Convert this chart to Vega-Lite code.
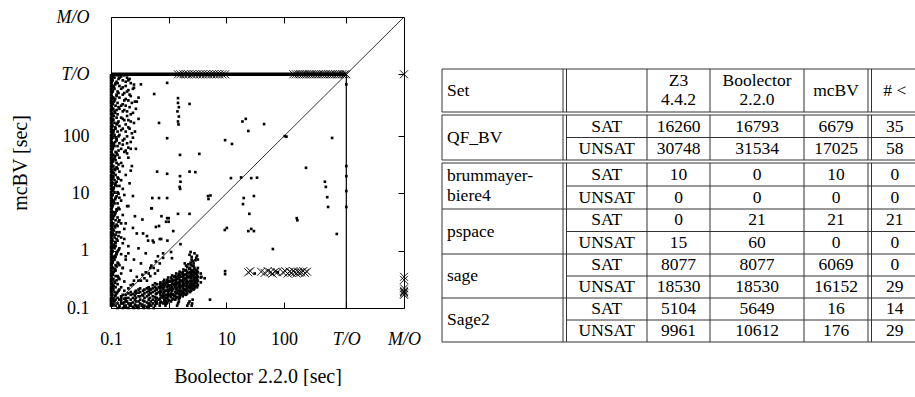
{
"$schema": "https://vega.github.io/schema/vega-lite/v6.json",
"padding": {"left": 10, "top": 8, "right": 0, "bottom": 0},
"background": "white",
"config": {"view": {"stroke": null}, "font": "Liberation Serif", "axis": {"grid": false}},
"bounds": "flush",
"spacing": 38,
"datasets": {
"dots": [
{"b":0.1,"m":0.11},{"b":0.12,"m":0.11},{"b":0.14,"m":0.11},{"b":0.17,"m":0.11},{"b":0.21,"m":0.11},
{"b":0.1,"m":0.12},{"b":0.11,"m":0.12},{"b":0.13,"m":0.12},{"b":0.16,"m":0.12},
{"b":0.1,"m":0.13},{"b":0.115,"m":0.13},{"b":0.15,"m":0.13},{"b":0.19,"m":0.13},
{"b":0.1,"m":0.14},{"b":0.12,"m":0.14},{"b":0.14,"m":0.14},{"b":0.18,"m":0.14},
{"b":0.1,"m":0.15},{"b":0.11,"m":0.15},{"b":0.13,"m":0.15},
{"b":0.1,"m":0.17},{"b":0.12,"m":0.17},{"b":0.16,"m":0.17},
{"b":0.1,"m":0.19},{"b":0.115,"m":0.19},{"b":0.13,"m":0.19},
{"b":0.1,"m":0.21},{"b":0.11,"m":0.21},{"b":0.14,"m":0.21},
{"b":0.1,"m":0.23},{"b":0.12,"m":0.23},{"b":0.15,"m":0.23},
{"b":0.1,"m":0.26},{"b":0.105,"m":0.26},{"b":0.13,"m":0.26},
{"b":0.1,"m":0.29},{"b":0.115,"m":0.29},{"b":0.17,"m":0.29},
{"b":0.1,"m":0.32},{"b":0.11,"m":0.32},{"b":0.14,"m":0.32},
{"b":0.1,"m":0.36},{"b":0.12,"m":0.36},{"b":0.13,"m":0.36},
{"b":0.1,"m":0.4},{"b":0.105,"m":0.4},{"b":0.15,"m":0.4},
{"b":0.1,"m":0.45},{"b":0.115,"m":0.45},{"b":0.12,"m":0.45},
{"b":0.1,"m":0.5},{"b":0.11,"m":0.5},{"b":0.16,"m":0.5},
{"b":0.1,"m":0.56},{"b":0.12,"m":0.56},{"b":0.14,"m":0.56},
{"b":0.1,"m":0.62},{"b":0.105,"m":0.62},{"b":0.13,"m":0.62},
{"b":0.1,"m":0.7},{"b":0.115,"m":0.7},{"b":0.18,"m":0.7},
{"b":0.1,"m":0.78},{"b":0.11,"m":0.78},{"b":0.12,"m":0.78},
{"b":0.1,"m":0.87},{"b":0.125,"m":0.87},{"b":0.15,"m":0.87},
{"b":0.1,"m":0.97},{"b":0.105,"m":0.97},{"b":0.13,"m":0.97},
{"b":0.1,"m":1.1},{"b":0.115,"m":1.1},{"b":0.14,"m":1.1},
{"b":0.1,"m":1.2},{"b":0.11,"m":1.2},{"b":0.12,"m":1.2},
{"b":0.1,"m":1.35},{"b":0.12,"m":1.35},{"b":0.16,"m":1.35},
{"b":0.1,"m":1.5},{"b":0.105,"m":1.5},{"b":0.13,"m":1.5},
{"b":0.1,"m":1.7},{"b":0.115,"m":1.7},{"b":0.15,"m":1.7},
{"b":0.1,"m":1.9},{"b":0.11,"m":1.9},{"b":0.12,"m":1.9},
{"b":0.1,"m":2.1},{"b":0.125,"m":2.1},{"b":0.14,"m":2.1},
{"b":0.1,"m":2.4},{"b":0.105,"m":2.4},{"b":0.17,"m":2.4},
{"b":0.1,"m":2.7},{"b":0.115,"m":2.7},{"b":0.13,"m":2.7},
{"b":0.1,"m":3},{"b":0.11,"m":3},{"b":0.15,"m":3},
{"b":0.1,"m":3.4},{"b":0.12,"m":3.4},{"b":0.14,"m":3.4},
{"b":0.1,"m":3.8},{"b":0.105,"m":3.8},{"b":0.13,"m":3.8},
{"b":0.1,"m":4.2},{"b":0.115,"m":4.2},{"b":0.16,"m":4.2},
{"b":0.1,"m":4.7},{"b":0.11,"m":4.7},{"b":0.12,"m":4.7},
{"b":0.1,"m":5.3},{"b":0.125,"m":5.3},{"b":0.14,"m":5.3},
{"b":0.1,"m":6},{"b":0.105,"m":6},{"b":0.19,"m":6},
{"b":0.1,"m":6.7},{"b":0.115,"m":6.7},{"b":0.13,"m":6.7},
{"b":0.1,"m":7.5},{"b":0.11,"m":7.5},{"b":0.15,"m":7.5},
{"b":0.1,"m":8.4},{"b":0.12,"m":8.4},{"b":0.14,"m":8.4},
{"b":0.1,"m":9.4},{"b":0.105,"m":9.4},{"b":0.17,"m":9.4},
{"b":0.1,"m":10.5},{"b":0.115,"m":10.5},{"b":0.13,"m":10.5},
{"b":0.1,"m":12},{"b":0.11,"m":12},{"b":0.16,"m":12},
{"b":0.1,"m":13.5},{"b":0.125,"m":13.5},{"b":0.14,"m":13.5},
{"b":0.1,"m":15},{"b":0.105,"m":15},{"b":0.12,"m":15},
{"b":0.1,"m":17},{"b":0.115,"m":17},{"b":0.15,"m":17},
{"b":0.1,"m":19},{"b":0.11,"m":19},{"b":0.13,"m":19},
{"b":0.1,"m":21},{"b":0.12,"m":21},{"b":0.18,"m":21},
{"b":0.1,"m":24},{"b":0.105,"m":24},{"b":0.14,"m":24},
{"b":0.1,"m":27},{"b":0.115,"m":27},{"b":0.13,"m":27},
{"b":0.1,"m":30},{"b":0.11,"m":30},{"b":0.16,"m":30},
{"b":0.1,"m":34},{"b":0.125,"m":34},{"b":0.15,"m":34},
{"b":0.1,"m":38},{"b":0.105,"m":38},{"b":0.12,"m":38},
{"b":0.1,"m":42},{"b":0.115,"m":42},{"b":0.14,"m":42},{"b":0.2,"m":42},
{"b":0.1,"m":47},{"b":0.11,"m":47},{"b":0.13,"m":47},
{"b":0.1,"m":53},{"b":0.12,"m":53},{"b":0.17,"m":53},
{"b":0.1,"m":60},{"b":0.105,"m":60},{"b":0.15,"m":60},{"b":0.22,"m":60},
{"b":0.1,"m":67},{"b":0.115,"m":67},{"b":0.13,"m":67},
{"b":0.1,"m":75},{"b":0.11,"m":75},{"b":0.14,"m":75},{"b":0.19,"m":75},
{"b":0.1,"m":84},{"b":0.125,"m":84},{"b":0.16,"m":84},
{"b":0.1,"m":94},{"b":0.105,"m":94},{"b":0.12,"m":94},{"b":0.24,"m":94},
{"b":0.1,"m":105},{"b":0.115,"m":105},{"b":0.14,"m":105},
{"b":0.1,"m":120},{"b":0.11,"m":120},{"b":0.13,"m":120},{"b":0.18,"m":120},
{"b":0.1,"m":135},{"b":0.12,"m":135},{"b":0.16,"m":135},{"b":0.21,"m":135},
{"b":0.1,"m":150},{"b":0.105,"m":150},{"b":0.14,"m":150},
{"b":0.1,"m":170},{"b":0.115,"m":170},{"b":0.13,"m":170},{"b":0.25,"m":170},
{"b":0.1,"m":190},{"b":0.11,"m":190},{"b":0.17,"m":190},{"b":0.2,"m":190},
{"b":0.1,"m":210},{"b":0.125,"m":210},{"b":0.15,"m":210},
{"b":0.1,"m":240},{"b":0.105,"m":240},{"b":0.13,"m":240},{"b":0.22,"m":240},
{"b":0.1,"m":270},{"b":0.115,"m":270},{"b":0.16,"m":270},{"b":0.19,"m":270},
{"b":0.1,"m":300},{"b":0.11,"m":300},{"b":0.14,"m":300},{"b":0.27,"m":300},
{"b":0.1,"m":340},{"b":0.12,"m":340},{"b":0.15,"m":340},{"b":0.18,"m":340},
{"b":0.1,"m":380},{"b":0.105,"m":380},{"b":0.13,"m":380},{"b":0.23,"m":380},
{"b":0.1,"m":420},{"b":0.115,"m":420},{"b":0.17,"m":420},{"b":0.2,"m":420},
{"b":0.1,"m":470},{"b":0.11,"m":470},{"b":0.14,"m":470},{"b":0.3,"m":470},
{"b":0.1,"m":530},{"b":0.125,"m":530},{"b":0.16,"m":530},{"b":0.21,"m":530},
{"b":0.1,"m":600},{"b":0.105,"m":600},{"b":0.13,"m":600},{"b":0.19,"m":600},
{"b":0.1,"m":670},{"b":0.115,"m":670},{"b":0.15,"m":670},{"b":0.24,"m":670},
{"b":0.1,"m":750},{"b":0.11,"m":750},{"b":0.14,"m":750},{"b":0.18,"m":750},
{"b":0.1,"m":840},{"b":0.12,"m":840},{"b":0.13,"m":840},{"b":0.22,"m":840},
{"b":0.1,"m":940},{"b":0.105,"m":940},{"b":0.16,"m":940},{"b":0.2,"m":940},
{"b":0.1,"m":1050},{"b":0.115,"m":1050},{"b":0.14,"m":1050},{"b":0.19,"m":1050},
{"b":0.1,"m":1150},{"b":0.11,"m":1150},{"b":0.13,"m":1150},{"b":0.17,"m":1150},
{"b":0.103,"m":0.115},{"b":0.108,"m":0.115},{"b":0.103,"m":0.135},{"b":0.112,"m":0.135},{"b":0.103,"m":0.16},{"b":0.118,"m":0.16},{"b":0.103,"m":0.18},{"b":0.125,"m":0.18},{"b":0.103,"m":0.2},{"b":0.135,"m":0.2},
{"b":0.103,"m":0.22},{"b":0.108,"m":0.22},{"b":0.103,"m":0.245},{"b":0.112,"m":0.245},{"b":0.103,"m":0.275},{"b":0.118,"m":0.275},{"b":0.103,"m":0.305},{"b":0.125,"m":0.305},{"b":0.103,"m":0.34},{"b":0.135,"m":0.34},
{"b":0.103,"m":0.38},{"b":0.108,"m":0.38},{"b":0.103,"m":0.425},{"b":0.112,"m":0.425},{"b":0.103,"m":0.475},{"b":0.118,"m":0.475},{"b":0.103,"m":0.53},{"b":0.125,"m":0.53},{"b":0.103,"m":0.59},{"b":0.135,"m":0.59},
{"b":0.103,"m":0.66},{"b":0.108,"m":0.66},{"b":0.103,"m":0.74},{"b":0.112,"m":0.74},{"b":0.103,"m":0.82},{"b":0.118,"m":0.82},{"b":0.103,"m":0.92},{"b":0.125,"m":0.92},{"b":0.103,"m":1.03},{"b":0.135,"m":1.03},
{"b":0.103,"m":1.15},{"b":0.108,"m":1.15},{"b":0.103,"m":1.28},{"b":0.112,"m":1.28},{"b":0.103,"m":1.42},{"b":0.118,"m":1.42},{"b":0.103,"m":1.6},{"b":0.125,"m":1.6},{"b":0.103,"m":1.8},{"b":0.135,"m":1.8},
{"b":0.103,"m":2},{"b":0.108,"m":2},{"b":0.103,"m":2.25},{"b":0.112,"m":2.25},{"b":0.103,"m":2.55},{"b":0.118,"m":2.55},{"b":0.103,"m":2.85},{"b":0.125,"m":2.85},{"b":0.103,"m":3.2},{"b":0.135,"m":3.2},
{"b":0.103,"m":3.6},{"b":0.108,"m":3.6},{"b":0.103,"m":4},{"b":0.112,"m":4},{"b":0.103,"m":4.45},{"b":0.118,"m":4.45},{"b":0.103,"m":5},{"b":0.125,"m":5},{"b":0.103,"m":5.6},{"b":0.135,"m":5.6},
{"b":0.103,"m":6.35},{"b":0.108,"m":6.35},{"b":0.103,"m":7.1},{"b":0.112,"m":7.1},{"b":0.103,"m":7.9},{"b":0.118,"m":7.9},{"b":0.103,"m":8.9},{"b":0.125,"m":8.9},{"b":0.103,"m":9.9},{"b":0.135,"m":9.9},
{"b":0.103,"m":11.2},{"b":0.108,"m":11.2},{"b":0.103,"m":12.7},{"b":0.112,"m":12.7},{"b":0.103,"m":14.2},{"b":0.118,"m":14.2},{"b":0.103,"m":16},{"b":0.125,"m":16},{"b":0.103,"m":18},{"b":0.135,"m":18},
{"b":0.103,"m":20},{"b":0.108,"m":20},{"b":0.103,"m":22.5},{"b":0.112,"m":22.5},{"b":0.103,"m":25.5},{"b":0.118,"m":25.5},{"b":0.103,"m":28.5},{"b":0.125,"m":28.5},{"b":0.103,"m":32},{"b":0.135,"m":32},
{"b":0.103,"m":36},{"b":0.108,"m":36},{"b":0.103,"m":40},{"b":0.112,"m":40},{"b":0.103,"m":44.5},{"b":0.118,"m":44.5},{"b":0.103,"m":50},{"b":0.125,"m":50},{"b":0.103,"m":56},{"b":0.135,"m":56},{"b":0.18,"m":56},
{"b":0.103,"m":63},{"b":0.108,"m":63},{"b":0.2,"m":63},{"b":0.103,"m":71},{"b":0.112,"m":71},{"b":0.16,"m":71},{"b":0.103,"m":79},{"b":0.118,"m":79},{"b":0.22,"m":79},{"b":0.103,"m":89},{"b":0.125,"m":89},{"b":0.17,"m":89},{"b":0.103,"m":99},{"b":0.135,"m":99},{"b":0.19,"m":99},
{"b":0.103,"m":112},{"b":0.108,"m":112},{"b":0.23,"m":112},{"b":0.103,"m":127},{"b":0.112,"m":127},{"b":0.15,"m":127},{"b":0.103,"m":142},{"b":0.118,"m":142},{"b":0.2,"m":142},{"b":0.103,"m":160},{"b":0.125,"m":160},{"b":0.18,"m":160},{"b":0.103,"m":180},{"b":0.135,"m":180},{"b":0.22,"m":180},
{"b":0.103,"m":200},{"b":0.108,"m":200},{"b":0.16,"m":200},{"b":0.103,"m":225},{"b":0.112,"m":225},{"b":0.19,"m":225},{"b":0.103,"m":255},{"b":0.118,"m":255},{"b":0.24,"m":255},{"b":0.103,"m":285},{"b":0.125,"m":285},{"b":0.17,"m":285},{"b":0.103,"m":320},{"b":0.135,"m":320},{"b":0.21,"m":320},
{"b":0.103,"m":360},{"b":0.108,"m":360},{"b":0.16,"m":360},{"b":0.103,"m":400},{"b":0.112,"m":400},{"b":0.26,"m":400},{"b":0.103,"m":445},{"b":0.118,"m":445},{"b":0.18,"m":445},{"b":0.103,"m":500},{"b":0.125,"m":500},{"b":0.22,"m":500},{"b":0.103,"m":565},{"b":0.135,"m":565},{"b":0.17,"m":565},
{"b":0.103,"m":635},{"b":0.108,"m":635},{"b":0.2,"m":635},{"b":0.103,"m":710},{"b":0.112,"m":710},{"b":0.16,"m":710},{"b":0.103,"m":795},{"b":0.118,"m":795},{"b":0.25,"m":795},{"b":0.103,"m":890},{"b":0.125,"m":890},{"b":0.18,"m":890},{"b":0.103,"m":995},{"b":0.135,"m":995},{"b":0.21,"m":995},{"b":0.103,"m":1100},{"b":0.108,"m":1100},{"b":0.15,"m":1100},
{"b":0.106,"m":0.11},{"b":0.106,"m":0.14},{"b":0.106,"m":0.17},{"b":0.106,"m":0.21},{"b":0.106,"m":0.26},{"b":0.106,"m":0.32},{"b":0.106,"m":0.4},{"b":0.106,"m":0.5},{"b":0.106,"m":0.62},{"b":0.106,"m":0.78},{"b":0.106,"m":0.97},{"b":0.106,"m":1.2},{"b":0.106,"m":1.5},{"b":0.106,"m":1.9},
{"b":0.106,"m":2.4},{"b":0.106,"m":3},{"b":0.106,"m":3.8},{"b":0.106,"m":4.7},{"b":0.106,"m":6},{"b":0.106,"m":7.5},{"b":0.106,"m":9.4},{"b":0.106,"m":12},{"b":0.106,"m":15},{"b":0.106,"m":19},{"b":0.106,"m":24},{"b":0.106,"m":30},{"b":0.106,"m":38},{"b":0.106,"m":47},
{"b":0.106,"m":60},{"b":0.106,"m":75},{"b":0.106,"m":94},{"b":0.106,"m":120},{"b":0.106,"m":150},{"b":0.106,"m":190},{"b":0.106,"m":240},{"b":0.106,"m":300},{"b":0.106,"m":380},{"b":0.106,"m":470},{"b":0.106,"m":600},{"b":0.106,"m":750},{"b":0.106,"m":940},{"b":0.106,"m":1150},
{"b":0.13,"m":0.1},{"b":0.16,"m":0.1},{"b":0.2,"m":0.1},{"b":0.25,"m":0.1},{"b":0.3,"m":0.1},{"b":0.37,"m":0.1},{"b":0.45,"m":0.1},{"b":0.55,"m":0.1},
{"b":0.14,"m":0.105},{"b":0.18,"m":0.105},{"b":0.22,"m":0.11},{"b":0.28,"m":0.105},{"b":0.34,"m":0.11},{"b":0.42,"m":0.105},{"b":0.5,"m":0.11},
{"b":0.15,"m":0.12},{"b":0.15,"m":0.14},{"b":0.15,"m":0.16},
{"b":0.18,"m":0.11},{"b":0.18,"m":0.13},{"b":0.18,"m":0.15},{"b":0.18,"m":0.17},
{"b":0.2,"m":0.12},{"b":0.2,"m":0.15},{"b":0.2,"m":0.18},
{"b":0.22,"m":0.12},{"b":0.22,"m":0.14},{"b":0.22,"m":0.17},{"b":0.22,"m":0.19},
{"b":0.27,"m":0.11},{"b":0.27,"m":0.13},{"b":0.27,"m":0.15},{"b":0.27,"m":0.18},{"b":0.27,"m":0.2},
{"b":0.32,"m":0.12},{"b":0.32,"m":0.14},{"b":0.32,"m":0.16},{"b":0.32,"m":0.19},{"b":0.32,"m":0.22},
{"b":0.35,"m":0.115},{"b":0.35,"m":0.17},
{"b":0.38,"m":0.11},{"b":0.38,"m":0.13},{"b":0.38,"m":0.15},{"b":0.38,"m":0.18},{"b":0.38,"m":0.21},
{"b":0.45,"m":0.11},{"b":0.45,"m":0.12},{"b":0.45,"m":0.14},{"b":0.45,"m":0.17},{"b":0.45,"m":0.2},{"b":0.45,"m":0.23},
{"b":0.49,"m":0.13},{"b":0.49,"m":0.18},{"b":0.49,"m":0.21},
{"b":0.53,"m":0.12},{"b":0.53,"m":0.14},{"b":0.53,"m":0.16},{"b":0.53,"m":0.19},{"b":0.53,"m":0.22},{"b":0.53,"m":0.25},
{"b":0.62,"m":0.12},{"b":0.62,"m":0.13},{"b":0.62,"m":0.15},{"b":0.62,"m":0.18},{"b":0.62,"m":0.21},{"b":0.62,"m":0.26},
{"b":0.67,"m":0.14},{"b":0.67,"m":0.19},{"b":0.67,"m":0.23},
{"b":0.72,"m":0.13},{"b":0.72,"m":0.15},{"b":0.72,"m":0.17},{"b":0.72,"m":0.2},{"b":0.72,"m":0.24},{"b":0.72,"m":0.28},
{"b":0.78,"m":0.16},{"b":0.78,"m":0.22},{"b":0.78,"m":0.26},
{"b":0.84,"m":0.13},{"b":0.84,"m":0.14},{"b":0.84,"m":0.16},{"b":0.84,"m":0.19},{"b":0.84,"m":0.23},{"b":0.84,"m":0.27},{"b":0.84,"m":0.31},
{"b":0.91,"m":0.15},{"b":0.91,"m":0.2},{"b":0.91,"m":0.28},
{"b":0.98,"m":0.14},{"b":0.98,"m":0.16},{"b":0.98,"m":0.18},{"b":0.98,"m":0.21},{"b":0.98,"m":0.25},{"b":0.98,"m":0.29},{"b":0.98,"m":0.34},
{"b":1.06,"m":0.17},{"b":1.06,"m":0.22},{"b":1.06,"m":0.3},
{"b":1.15,"m":0.14},{"b":1.15,"m":0.17},{"b":1.15,"m":0.2},{"b":1.15,"m":0.23},{"b":1.15,"m":0.27},{"b":1.15,"m":0.32},{"b":1.15,"m":0.37},
{"b":1.25,"m":0.16},{"b":1.25,"m":0.25},{"b":1.25,"m":0.35},
{"b":1.35,"m":0.15},{"b":1.35,"m":0.18},{"b":1.35,"m":0.21},{"b":1.35,"m":0.25},{"b":1.35,"m":0.29},{"b":1.35,"m":0.34},{"b":1.35,"m":0.4},
{"b":1.45,"m":0.2},{"b":1.45,"m":0.27},{"b":1.45,"m":0.36},
{"b":1.55,"m":0.16},{"b":1.55,"m":0.19},{"b":1.55,"m":0.22},{"b":1.55,"m":0.26},{"b":1.55,"m":0.31},{"b":1.55,"m":0.37},{"b":1.55,"m":0.43},
{"b":1.67,"m":0.18},{"b":1.67,"m":0.3},{"b":1.67,"m":0.4},
{"b":1.8,"m":0.17},{"b":1.8,"m":0.2},{"b":1.8,"m":0.24},{"b":1.8,"m":0.28},{"b":1.8,"m":0.33},{"b":1.8,"m":0.39},{"b":1.8,"m":0.47},
{"b":1.95,"m":0.21},{"b":1.95,"m":0.32},{"b":1.95,"m":0.45},
{"b":2.1,"m":0.18},{"b":2.1,"m":0.22},{"b":2.1,"m":0.26},{"b":2.1,"m":0.3},{"b":2.1,"m":0.36},{"b":2.1,"m":0.43},{"b":2.1,"m":0.52},
{"b":2.27,"m":0.23},{"b":2.27,"m":0.35},{"b":2.27,"m":0.48},
{"b":2.45,"m":0.2},{"b":2.45,"m":0.24},{"b":2.45,"m":0.28},{"b":2.45,"m":0.33},{"b":2.45,"m":0.39},{"b":2.45,"m":0.46},{"b":2.45,"m":0.56},
{"b":2.62,"m":0.25},{"b":2.62,"m":0.37},{"b":2.62,"m":0.54},
{"b":2.8,"m":0.22},{"b":2.8,"m":0.26},{"b":2.8,"m":0.31},{"b":2.8,"m":0.36},{"b":2.8,"m":0.42},{"b":2.8,"m":0.5},
{"b":3,"m":0.28},{"b":3,"m":0.4},{"b":3,"m":0.46},
{"b":3.2,"m":0.25},{"b":3.2,"m":0.3},{"b":3.2,"m":0.35},{"b":3.2,"m":0.42},{"b":3.2,"m":0.5},
{"b":3.6,"m":0.28},{"b":3.6,"m":0.34},{"b":3.6,"m":0.4},
{"b":0.17,"m":0.105},{"b":0.17,"m":0.125},{"b":0.17,"m":0.145},
{"b":0.24,"m":0.105},{"b":0.24,"m":0.125},{"b":0.24,"m":0.15},{"b":0.24,"m":0.175},
{"b":0.3,"m":0.11},{"b":0.3,"m":0.13},{"b":0.3,"m":0.16},{"b":0.3,"m":0.185},{"b":0.3,"m":0.21},
{"b":0.42,"m":0.125},{"b":0.42,"m":0.16},{"b":0.42,"m":0.19},{"b":0.42,"m":0.22},
{"b":0.58,"m":0.11},{"b":0.58,"m":0.13},{"b":0.58,"m":0.155},{"b":0.58,"m":0.2},{"b":0.58,"m":0.235},{"b":0.58,"m":0.27},
{"b":0.7,"m":0.11},{"b":0.7,"m":0.12},{"b":0.7,"m":0.145},{"b":0.7,"m":0.185},{"b":0.7,"m":0.22},{"b":0.7,"m":0.26},
{"b":0.81,"m":0.12},{"b":0.81,"m":0.15},{"b":0.81,"m":0.175},{"b":0.81,"m":0.21},{"b":0.81,"m":0.25},{"b":0.81,"m":0.29},
{"b":0.95,"m":0.125},{"b":0.95,"m":0.15},{"b":0.95,"m":0.17},{"b":0.95,"m":0.2},{"b":0.95,"m":0.23},{"b":0.95,"m":0.27},{"b":0.95,"m":0.31},
{"b":1.1,"m":0.13},{"b":1.1,"m":0.155},{"b":1.1,"m":0.18},{"b":1.1,"m":0.21},{"b":1.1,"m":0.25},{"b":1.1,"m":0.29},{"b":1.1,"m":0.34},
{"b":1.3,"m":0.14},{"b":1.3,"m":0.165},{"b":1.3,"m":0.19},{"b":1.3,"m":0.23},{"b":1.3,"m":0.27},{"b":1.3,"m":0.31},{"b":1.3,"m":0.36},
{"b":1.5,"m":0.145},{"b":1.5,"m":0.175},{"b":1.5,"m":0.2},{"b":1.5,"m":0.24},{"b":1.5,"m":0.28},{"b":1.5,"m":0.33},{"b":1.5,"m":0.39},
{"b":1.75,"m":0.16},{"b":1.75,"m":0.185},{"b":1.75,"m":0.22},{"b":1.75,"m":0.26},{"b":1.75,"m":0.3},{"b":1.75,"m":0.36},{"b":1.75,"m":0.42},
{"b":2,"m":0.17},{"b":2,"m":0.2},{"b":2,"m":0.24},{"b":2,"m":0.28},{"b":2,"m":0.33},{"b":2,"m":0.39},{"b":2,"m":0.46},
{"b":2.35,"m":0.19},{"b":2.35,"m":0.22},{"b":2.35,"m":0.26},{"b":2.35,"m":0.3},{"b":2.35,"m":0.36},{"b":2.35,"m":0.42},{"b":2.35,"m":0.5},
{"b":2.7,"m":0.21},{"b":2.7,"m":0.24},{"b":2.7,"m":0.28},{"b":2.7,"m":0.33},{"b":2.7,"m":0.39},{"b":2.7,"m":0.46},{"b":2.7,"m":0.54},
{"b":3.1,"m":0.23},{"b":3.1,"m":0.27},{"b":3.1,"m":0.32},{"b":3.1,"m":0.38},{"b":3.1,"m":0.45},
{"b":0.26,"m":0.115},{"b":0.26,"m":0.14},{"b":0.26,"m":0.165},{"b":0.26,"m":0.19},
{"b":0.36,"m":0.105},{"b":0.36,"m":0.135},{"b":0.36,"m":0.165},{"b":0.36,"m":0.2},
{"b":0.47,"m":0.115},{"b":0.47,"m":0.15},{"b":0.47,"m":0.185},{"b":0.47,"m":0.215},
{"b":0.6,"m":0.12},{"b":0.6,"m":0.145},{"b":0.6,"m":0.175},{"b":0.6,"m":0.22},
{"b":0.75,"m":0.125},{"b":0.75,"m":0.16},{"b":0.75,"m":0.19},{"b":0.75,"m":0.235},
{"b":0.88,"m":0.135},{"b":0.88,"m":0.17},{"b":0.88,"m":0.2},{"b":0.88,"m":0.25},
{"b":1.02,"m":0.135},{"b":1.02,"m":0.165},{"b":1.02,"m":0.2},{"b":1.02,"m":0.245},{"b":1.02,"m":0.29},
{"b":1.2,"m":0.145},{"b":1.2,"m":0.175},{"b":1.2,"m":0.215},{"b":1.2,"m":0.26},{"b":1.2,"m":0.3},
{"b":1.4,"m":0.155},{"b":1.4,"m":0.185},{"b":1.4,"m":0.225},{"b":1.4,"m":0.27},{"b":1.4,"m":0.32},
{"b":1.62,"m":0.17},{"b":1.62,"m":0.2},{"b":1.62,"m":0.24},{"b":1.62,"m":0.29},{"b":1.62,"m":0.35},
{"b":1.87,"m":0.18},{"b":1.87,"m":0.215},{"b":1.87,"m":0.26},{"b":1.87,"m":0.31},{"b":1.87,"m":0.37},
{"b":2.2,"m":0.2},{"b":2.2,"m":0.24},{"b":2.2,"m":0.28},{"b":2.2,"m":0.34},{"b":2.2,"m":0.4},
{"b":2.55,"m":0.22},{"b":2.55,"m":0.26},{"b":2.55,"m":0.3},{"b":2.55,"m":0.36},{"b":2.55,"m":0.43},
{"b":2.95,"m":0.24},{"b":2.95,"m":0.29},{"b":2.95,"m":0.34},{"b":2.95,"m":0.4},
{"b":2.4,"m":0.62},{"b":2.5,"m":0.7},{"b":2.5,"m":0.78},{"b":2.6,"m":0.66},{"b":2.7,"m":0.6},{"b":2.9,"m":0.68},{"b":3,"m":0.75},{"b":3.1,"m":0.82},{"b":2.2,"m":0.58},{"b":2,"m":0.55},{"b":1.9,"m":0.6},{"b":2.8,"m":0.9},{"b":3.2,"m":0.7},{"b":2.3,"m":0.85},{"b":2.4,"m":0.95},
{"b":0.88,"m":0.11},{"b":0.88,"m":0.12},{"b":0.9,"m":0.13},{"b":0.9,"m":0.15},{"b":0.92,"m":0.12},
{"b":1.4,"m":0.11},{"b":1.45,"m":0.12},{"b":1.5,"m":0.13},{"b":1.55,"m":0.15},
{"b":2.1,"m":0.11},{"b":2.2,"m":0.12},{"b":2.3,"m":0.13},{"b":2.5,"m":0.11},{"b":2.55,"m":0.12},{"b":2.6,"m":0.14},
{"b":0.15,"m":0.15},{"b":0.17,"m":0.2},{"b":0.2,"m":0.22},{"b":0.22,"m":0.25},{"b":0.25,"m":0.3},{"b":0.3,"m":0.3},{"b":0.35,"m":0.38},{"b":0.4,"m":0.42},{"b":0.45,"m":0.4},{"b":0.5,"m":0.55},{"b":0.55,"m":0.5},{"b":0.6,"m":0.65},{"b":0.7,"m":0.6},{"b":0.8,"m":0.75},{"b":0.24,"m":0.26},{"b":0.28,"m":0.35},{"b":0.33,"m":0.3},{"b":0.38,"m":0.33},{"b":0.42,"m":0.3},{"b":0.48,"m":0.36},{"b":0.58,"m":0.4},{"b":0.65,"m":0.45},
{"b":0.16,"m":0.5},{"b":0.18,"m":0.8},{"b":0.2,"m":1.2},{"b":0.22,"m":0.45},{"b":0.25,"m":0.7},{"b":0.28,"m":2},{"b":0.3,"m":1.1},{"b":0.33,"m":0.6},{"b":0.35,"m":3.5},{"b":0.4,"m":0.9},{"b":0.42,"m":1.8},{"b":0.48,"m":0.5},{"b":0.5,"m":5.5},{"b":0.55,"m":1.4},{"b":0.6,"m":2.6},{"b":0.65,"m":0.8},{"b":0.7,"m":1.6},{"b":0.75,"m":4},{"b":0.8,"m":0.9},{"b":0.9,"m":3.2},{"b":0.95,"m":1.5},{"b":1,"m":3.7},{"b":1.1,"m":0.95},{"b":1.2,"m":2.2},{"b":1.45,"m":4.4},{"b":1.6,"m":1.3},{"b":2.3,"m":4.4},{"b":0.36,"m":2},{"b":0.44,"m":1.5},{"b":0.53,"m":1.5},{"b":0.74,"m":1.6},{"b":1.14,"m":0.74},{"b":0.18,"m":3},{"b":0.2,"m":6},{"b":0.24,"m":9},{"b":0.26,"m":4},{"b":0.21,"m":15},{"b":0.23,"m":30},{"b":0.19,"m":50},{"b":0.26,"m":120},{"b":0.28,"m":400},{"b":0.25,"m":700},{"b":0.22,"m":25},{"b":0.27,"m":60},{"b":0.3,"m":200},{"b":0.33,"m":800},{"b":0.24,"m":2.5},{"b":0.2,"m":0.9},{"b":0.17,"m":1.6},
{"b":0.94,"m":850},{"b":0.56,"m":543},{"b":1.45,"m":460},{"b":1.45,"m":380},{"b":1.5,"m":320},{"b":1.42,"m":270},{"b":1.5,"m":220},{"b":1.45,"m":180},{"b":1.48,"m":160},{"b":2.3,"m":365},{"b":0.68,"m":170},{"b":0.94,"m":92},{"b":21.7,"m":200},{"b":19,"m":180},{"b":24,"m":123},{"b":45,"m":162},{"b":9.5,"m":85},{"b":12.5,"m":73},{"b":103,"m":100},{"b":110,"m":98},{"b":680,"m":93},{"b":1.57,"m":47},{"b":3.4,"m":49},{"b":0.63,"m":24},{"b":0.94,"m":22},{"b":1.57,"m":20},{"b":1.6,"m":16},{"b":1.55,"m":13},{"b":1.58,"m":12},{"b":2.3,"m":24},{"b":2.9,"m":23.5},{"b":12,"m":18.5},{"b":18,"m":19},{"b":27,"m":18.5},{"b":34,"m":18.8},{"b":240,"m":28},{"b":510,"m":16},{"b":530,"m":13},{"b":560,"m":8.6},{"b":0.52,"m":8.3},{"b":0.68,"m":8.3},{"b":0.94,"m":8.3},{"b":4.8,"m":9},{"b":4.9,"m":8},{"b":5.3,"m":9.2},{"b":20,"m":8.3},{"b":30,"m":9},{"b":19.4,"m":6.5},{"b":25,"m":4.4},{"b":166,"m":3.7},{"b":170,"m":3.4},{"b":580,"m":5.8},{"b":9.4,"m":2.3},{"b":24,"m":2.2},{"b":27,"m":2.4},{"b":30,"m":2.2},{"b":820,"m":1.96},{"b":64,"m":1.07},{"b":31,"m":0.4},{"b":78,"m":0.42},{"b":10.2,"m":2.5},{"b":9.5,"m":0.44},{"b":9.5,"m":0.39},{"b":5.2,"m":0.14},{"b":4.2,"m":0.33},{"b":3.7,"m":0.35},{"b":0.51,"m":5.5},{"b":0.68,"m":2.7},{"b":0.94,"m":3.7},{"b":1,"m":3.2},{"b":1200,"m":800},{"b":1200,"m":30},{"b":1200,"m":20},{"b":1200,"m":11},{"b":1200,"m":5.8}
],
"crosses": [
{"b":1.45,"m":1200},{"b":1.6,"m":1200},{"b":1.8,"m":1200},{"b":2,"m":1200},{"b":2.2,"m":1200},{"b":2.5,"m":1200},{"b":2.8,"m":1200},{"b":3.1,"m":1200},{"b":3.5,"m":1200},{"b":3.9,"m":1200},{"b":4.4,"m":1200},{"b":4.9,"m":1200},{"b":5.5,"m":1200},{"b":6.1,"m":1200},{"b":6.8,"m":1200},{"b":7.6,"m":1200},{"b":8.5,"m":1200},{"b":9.5,"m":1200},
{"b":145,"m":1200},{"b":160,"m":1200},{"b":175,"m":1200},{"b":190,"m":1200},{"b":210,"m":1200},{"b":230,"m":1200},{"b":250,"m":1200},{"b":275,"m":1200},{"b":300,"m":1200},{"b":330,"m":1200},{"b":360,"m":1200},{"b":400,"m":1200},{"b":440,"m":1200},{"b":480,"m":1200},{"b":530,"m":1200},{"b":580,"m":1200},{"b":640,"m":1200},{"b":700,"m":1200},{"b":770,"m":1200},{"b":850,"m":1200},{"b":930,"m":1200},{"b":1020,"m":1200},{"b":1120,"m":1200},{"b":1200,"m":1200},
{"b":12000,"m":1200},
{"b":12000,"m":0.35},{"b":12000,"m":0.31},{"b":12000,"m":0.22},{"b":12000,"m":0.2},{"b":12000,"m":0.19},{"b":12000,"m":0.18},{"b":12000,"m":0.17},
{"b":24,"m":0.42},{"b":26,"m":0.44},{"b":40,"m":0.43},{"b":46,"m":0.41},{"b":52,"m":0.44},{"b":58,"m":0.42},{"b":63,"m":0.4},{"b":70,"m":0.43},{"b":76,"m":0.42},{"b":96,"m":0.42},{"b":105,"m":0.44},{"b":115,"m":0.4},{"b":125,"m":0.43},{"b":135,"m":0.41},{"b":145,"m":0.44},{"b":155,"m":0.42},{"b":165,"m":0.4},{"b":175,"m":0.43},{"b":185,"m":0.41},{"b":200,"m":0.42},{"b":215,"m":0.44},{"b":230,"m":0.41},{"b":250,"m":0.43}
],
"results": [
{"r":1,"set":"QF_BV","res":"SAT","z3":16260,"bool":16793,"mcbv":6679,"lt":35},
{"r":2,"set":"QF_BV","res":"UNSAT","z3":30748,"bool":31534,"mcbv":17025,"lt":58},
{"r":3,"set":"brummayer-biere4","res":"SAT","z3":10,"bool":0,"mcbv":10,"lt":0},
{"r":4,"set":"brummayer-biere4","res":"UNSAT","z3":0,"bool":0,"mcbv":0,"lt":0},
{"r":5,"set":"pspace","res":"SAT","z3":0,"bool":21,"mcbv":21,"lt":21},
{"r":6,"set":"pspace","res":"UNSAT","z3":15,"bool":60,"mcbv":0,"lt":0},
{"r":7,"set":"sage","res":"SAT","z3":8077,"bool":8077,"mcbv":6069,"lt":0},
{"r":8,"set":"sage","res":"UNSAT","z3":18530,"bool":18530,"mcbv":16152,"lt":29},
{"r":9,"set":"Sage2","res":"SAT","z3":5104,"bool":5649,"mcbv":16,"lt":14},
{"r":10,"set":"Sage2","res":"UNSAT","z3":9961,"bool":10612,"mcbv":176,"lt":29}
],
"tcols": [{"col":"res","cx":164.75},{"col":"z3","cx":236.5},{"col":"bool","cx":315},{"col":"mcbv","cx":394},{"col":"lt","cx":452.75}],
"trows": [{"r":1,"cy":57.5},{"r":2,"cy":80},{"r":3,"cy":105.5},{"r":4,"cy":128.5},{"r":5,"cy":151},{"r":6,"cy":173.5},{"r":7,"cy":196},{"r":8,"cy":218},{"r":9,"cy":240},{"r":10,"cy":262}],
"tsets": [{"name":"Set","cy":21.5},{"name":"QF_BV","cy":68.5},{"name":"brummayer-\nbiere4","cy":117},{"name":"pspace","cy":162.5},{"name":"sage","cy":207},{"name":"Sage2","cy":251}],
"thead": [{"col":"z3","t":"Z3\n4.4.2"},{"col":"bool","t":"Boolector\n2.2.0"},{"col":"mcbv","t":"mcBV"},{"col":"lt","t":"# <"}],
"tlines": [
{"x":0,"x2":476,"y":0,"y2":0},{"x":0,"x2":476,"y":43,"y2":43},{"x":0,"x2":476,"y":46,"y2":46},{"x":0,"x2":476,"y":91,"y2":91},{"x":0,"x2":476,"y":94,"y2":94},{"x":0,"x2":476,"y":140,"y2":140},{"x":0,"x2":476,"y":185,"y2":185},{"x":0,"x2":476,"y":229,"y2":229},{"x":0,"x2":476,"y":273,"y2":273},
{"x":124.5,"x2":476,"y":68.5,"y2":68.5},{"x":124.5,"x2":476,"y":117,"y2":117},{"x":124.5,"x2":476,"y":162.5,"y2":162.5},{"x":124.5,"x2":476,"y":207,"y2":207},{"x":124.5,"x2":476,"y":251,"y2":251},
{"x":0,"x2":0,"y":0,"y2":43},{"x":121,"x2":121,"y":0,"y2":43},{"x":124.5,"x2":124.5,"y":0,"y2":43},{"x":205,"x2":205,"y":0,"y2":43},{"x":268,"x2":268,"y":0,"y2":43},{"x":362,"x2":362,"y":0,"y2":43},{"x":426,"x2":426,"y":0,"y2":43},{"x":429.5,"x2":429.5,"y":0,"y2":43},{"x":476,"x2":476,"y":0,"y2":43},
{"x":0,"x2":0,"y":46,"y2":91},{"x":121,"x2":121,"y":46,"y2":91},{"x":124.5,"x2":124.5,"y":46,"y2":91},{"x":205,"x2":205,"y":46,"y2":91},{"x":268,"x2":268,"y":46,"y2":91},{"x":362,"x2":362,"y":46,"y2":91},{"x":426,"x2":426,"y":46,"y2":91},{"x":429.5,"x2":429.5,"y":46,"y2":91},{"x":476,"x2":476,"y":46,"y2":91},
{"x":0,"x2":0,"y":94,"y2":273},{"x":121,"x2":121,"y":94,"y2":273},{"x":124.5,"x2":124.5,"y":94,"y2":273},{"x":205,"x2":205,"y":94,"y2":273},{"x":268,"x2":268,"y":94,"y2":273},{"x":362,"x2":362,"y":94,"y2":273},{"x":426,"x2":426,"y":94,"y2":273},{"x":429.5,"x2":429.5,"y":94,"y2":273},{"x":476,"x2":476,"y":94,"y2":273}
]
},
"hconcat": [
{
"width": 293, "height": 291,
"resolve": {"axis": {"x": "independent", "y": "independent"}},
"layer": [
{"data": {"values": [{"b":0.1,"m":0.1,"b2":12000,"m2":12000}]},
 "mark": {"type":"rule","color":"black","strokeWidth":0.8},
 "encoding": {"x":{"field":"b","type":"quantitative","scale":{"type":"log","domain":[0.1,12000],"nice":false},"axis":null},"x2":{"field":"b2"},
  "y":{"field":"m","type":"quantitative","scale":{"type":"log","domain":[0.1,12000],"nice":false},"axis":null},"y2":{"field":"m2"}}},
{"data": {"values": [{"b":0.1,"b2":1200,"m":1200}]},
 "mark": {"type":"rule","color":"black","strokeWidth":3.5},
 "encoding": {"x":{"field":"b","type":"quantitative","scale":{"type":"log","domain":[0.1,12000],"nice":false},"axis":null},"x2":{"field":"b2"},
  "y":{"field":"m","type":"quantitative","scale":{"type":"log","domain":[0.1,12000],"nice":false},"axis":null}}},
{"data": {"values": [{"b":1200,"m":0.1,"m2":1200}]},
 "mark": {"type":"rule","color":"black","strokeWidth":1.2},
 "encoding": {"x":{"field":"b","type":"quantitative","scale":{"type":"log","domain":[0.1,12000],"nice":false},"axis":null},
  "y":{"field":"m","type":"quantitative","scale":{"type":"log","domain":[0.1,12000],"nice":false},"axis":null},"y2":{"field":"m2"}}},
{"data": {"name": "dots"},
 "mark": {"type":"point","shape":"square","filled":true,"size":7,"color":"black","opacity":1},
 "encoding": {
  "x":{"field":"b","type":"quantitative","scale":{"type":"log","domain":[0.1,12000],"nice":false},
   "axis":{"orient":"bottom","title":"Boolector 2.2.0 [sec]","values":[0.1,1,10,100,1200,12000],
    "labelExpr":"datum.value>=12000?'M/O':datum.value>=1200?'T/O':datum.value<0.5?'0.1':format(datum.value,'d')",
    "labelFontStyle":{"condition":{"test":"datum.value>1000","value":"italic"},"value":"normal"},
    "tickSize":-6,"tickColor":"black","domainColor":"black","labelColor":"black","labelFont":"Liberation Serif","labelFontSize":18,"labelPadding":28,"labelFlush":false,"labelOverlap":false,
    "titleFont":"Liberation Serif","titleFontSize":20,"titleFontWeight":"normal","titleColor":"black","titlePadding":18}},
  "y":{"field":"m","type":"quantitative","scale":{"type":"log","domain":[0.1,12000],"nice":false},
   "axis":{"orient":"left","title":"mcBV [sec]","values":[0.1,1,10,100,1200,12000],
    "labelExpr":"datum.value>=12000?'M/O':datum.value>=1200?'T/O':datum.value<0.5?'0.1':format(datum.value,'d')",
    "labelFontStyle":{"condition":{"test":"datum.value>1000","value":"italic"},"value":"normal"},
    "tickSize":-6,"tickColor":"black","domainColor":"black","labelColor":"black","labelFont":"Liberation Serif","labelFontSize":18,"labelPadding":28,"labelFlush":false,"labelOverlap":false,
    "titleFont":"Liberation Serif","titleFontSize":20,"titleFontWeight":"normal","titleColor":"black","titlePadding":26}}}},
{"data": {"name": "crosses"},
 "mark": {"type":"point","shape":"M-1,-1L1,1M1,-1L-1,1","filled":false,"size":64,"color":"black","strokeWidth":0.9,"opacity":1},
 "encoding": {"x":{"field":"b","type":"quantitative","scale":{"type":"log","domain":[0.1,12000],"nice":false},"axis":null},
  "y":{"field":"m","type":"quantitative","scale":{"type":"log","domain":[0.1,12000],"nice":false},"axis":null}}},
{"data": {"values": [{"b":0.1,"m":0.1}]},
 "mark": {"type":"point","opacity":0},
 "encoding": {
  "x":{"field":"b","type":"quantitative","scale":{"type":"log","domain":[0.1,12000],"nice":false},
   "axis":{"orient":"top","title":null,"labels":false,"values":[1,10,100,1200],"tickSize":-6,"tickColor":"black","domainColor":"black"}},
  "y":{"field":"m","type":"quantitative","scale":{"type":"log","domain":[0.1,12000],"nice":false},
   "axis":{"orient":"right","title":null,"labels":false,"values":[1,10,100,1200],"tickSize":-6,"tickColor":"black","domainColor":"black"}}}}
]
},
{
"width": 476, "height": 325,
"layer": [
{"data": {"name":"tlines"},
 "mark": {"type":"rule","color":"#333333","strokeWidth":1},
 "encoding": {"x":{"field":"x","type":"quantitative","scale":{"domain":[0,476],"nice":false,"zero":false},"axis":null},"x2":{"field":"x2"},
  "y":{"field":"y","type":"quantitative","scale":{"domain":[-52,273],"reverse":true,"nice":false,"zero":false},"axis":null},"y2":{"field":"y2"}}},
{"data": {"name":"tsets"},
 "transform": [{"filter":"indexof(datum.name,'\\n')<0"}],
 "mark": {"type":"text","align":"left","baseline":"middle","fontSize":17.5,"color":"black","font":"Liberation Serif"},
 "encoding": {"x":{"datum":5,"type":"quantitative","scale":{"domain":[0,476],"nice":false,"zero":false},"axis":null},
  "y":{"field":"cy","type":"quantitative","scale":{"domain":[-52,273],"reverse":true,"nice":false,"zero":false},"axis":null},
  "text":{"field":"name","type":"nominal"}}},
{"data": {"name":"tsets"},
 "transform": [{"filter":"indexof(datum.name,'\\n')>=0"}],
 "mark": {"type":"text","align":"left","baseline":"middle","fontSize":17.5,"lineBreak":"\n","lineHeight":20,"dy":-10,"color":"black","font":"Liberation Serif"},
 "encoding": {"x":{"datum":5,"type":"quantitative","scale":{"domain":[0,476],"nice":false,"zero":false},"axis":null},
  "y":{"field":"cy","type":"quantitative","scale":{"domain":[-52,273],"reverse":true,"nice":false,"zero":false},"axis":null},
  "text":{"field":"name","type":"nominal"}}},
{"data": {"name":"thead"},
 "transform": [{"filter":{"field":"col","oneOf":["z3","bool"]}},{"lookup":"col","from":{"data":{"name":"tcols"},"key":"col","fields":["cx"]}}],
 "mark": {"type":"text","align":"center","baseline":"middle","fontSize":17.5,"lineBreak":"\n","lineHeight":19,"dy":-9.5,"color":"black","font":"Liberation Serif"},
 "encoding": {"x":{"field":"cx","type":"quantitative","scale":{"domain":[0,476],"nice":false,"zero":false},"axis":null},
  "y":{"datum":21.5,"type":"quantitative","scale":{"domain":[-52,273],"reverse":true,"nice":false,"zero":false},"axis":null},
  "text":{"field":"t","type":"nominal"}}},
{"data": {"name":"thead"},
 "transform": [{"filter":{"field":"col","oneOf":["mcbv","lt"]}},{"lookup":"col","from":{"data":{"name":"tcols"},"key":"col","fields":["cx"]}}],
 "mark": {"type":"text","align":"center","baseline":"middle","fontSize":17.5,"color":"black","font":"Liberation Serif"},
 "encoding": {"x":{"field":"cx","type":"quantitative","scale":{"domain":[0,476],"nice":false,"zero":false},"axis":null},
  "y":{"datum":21.5,"type":"quantitative","scale":{"domain":[-52,273],"reverse":true,"nice":false,"zero":false},"axis":null},
  "text":{"field":"t","type":"nominal"}}},
{"data": {"name":"results"},
 "transform": [{"fold":["res","z3","bool","mcbv","lt"],"as":["col","val"]},
  {"lookup":"col","from":{"data":{"name":"tcols"},"key":"col","fields":["cx"]}},
  {"lookup":"r","from":{"data":{"name":"trows"},"key":"r","fields":["cy"]}}],
 "mark": {"type":"text","align":"center","baseline":"middle","fontSize":17.5,"color":"black","font":"Liberation Serif"},
 "encoding": {"x":{"field":"cx","type":"quantitative","scale":{"domain":[0,476],"nice":false,"zero":false},"axis":null},
  "y":{"field":"cy","type":"quantitative","scale":{"domain":[-52,273],"reverse":true,"nice":false,"zero":false},"axis":null},
  "text":{"field":"val","type":"nominal"}}}
]
}
]
}
